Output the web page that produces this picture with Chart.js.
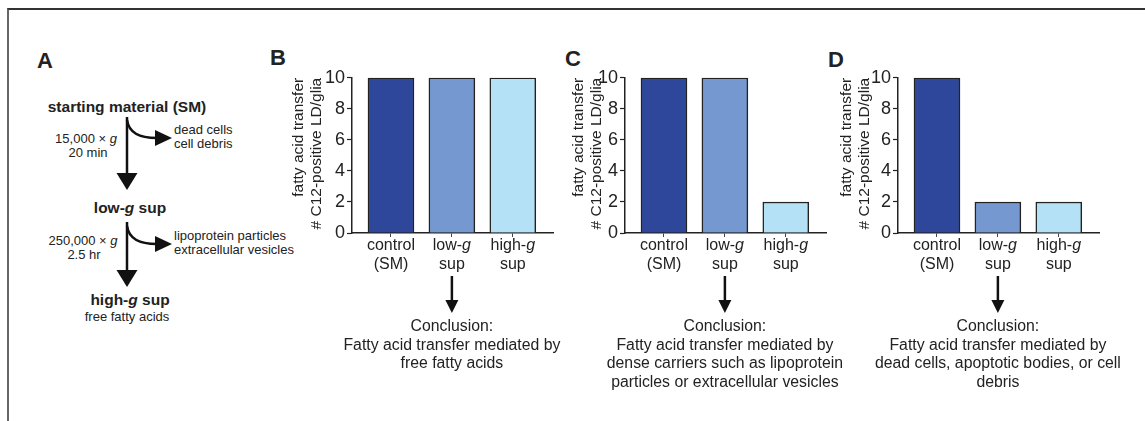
<!DOCTYPE html>
<html>
<head>
<meta charset="utf-8">
<script src="https://cdn.jsdelivr.net/npm/chart.js@4.4.1/dist/chart.umd.min.js"></script>
<style>
  html, body { margin: 0; padding: 0; background: #fff; }
  #page { position: relative; width: 1145px; height: 421px; overflow: hidden; font-family: Arial, "Liberation Sans", sans-serif; }
  #frame { position: absolute; left: 7px; top: 8px; width: 1150px; height: 420px; border-top: 2px solid #333; border-left: 2px solid #666; }
  #page canvas { position: absolute; }
  #page svg { position: absolute; left: 0; top: 0; }
  svg text { fill: #222; font-family: Arial, "Liberation Sans", sans-serif; }
</style>
</head>
<body>
<div id="page">
  <div id="frame"></div>
  <svg width="1145" height="421">
    <!-- panel letters -->
    <text x="37" y="68" font-size="22" font-weight="bold">A</text>
    <text x="270" y="65" font-size="22" font-weight="bold">B</text>
    <text x="565" y="66" font-size="22" font-weight="bold">C</text>
    <text x="828" y="67" font-size="22" font-weight="bold">D</text>

    <!-- panel A: fractionation scheme -->
    <text x="127" y="112" font-size="15.5" font-weight="bold" text-anchor="middle">starting material (SM)</text>
    <line x1="127" y1="117" x2="127" y2="175" stroke="#111" stroke-width="2.5"/>
    <polygon points="116.5,173 137.5,173 127,190" fill="#111"/>
    <path d="M127,120 C129,133 139,138 157,138" fill="none" stroke="#111" stroke-width="2.5"/>
    <polygon points="155,130 155,146 172,138" fill="#111"/>
    <text x="174" y="134" font-size="13">dead cells</text>
    <text x="174" y="148" font-size="13">cell debris</text>
    <text x="86" y="143" font-size="13" text-anchor="middle">15,000 × <tspan font-style="italic">g</tspan></text>
    <text x="88" y="157" font-size="13" text-anchor="middle">20 min</text>

    <text x="130" y="213" font-size="15.5" font-weight="bold" text-anchor="middle">low-<tspan font-style="italic">g</tspan> sup</text>
    <line x1="127" y1="222" x2="127" y2="272" stroke="#111" stroke-width="2.5"/>
    <polygon points="116.5,270 137.5,270 127,287" fill="#111"/>
    <path d="M127,226 C129,239 139,244 157,244" fill="none" stroke="#111" stroke-width="2.5"/>
    <polygon points="155,236 155,252 172,244" fill="#111"/>
    <text x="174" y="240" font-size="13">lipoprotein particles</text>
    <text x="174" y="254" font-size="13">extracellular vesicles</text>
    <text x="83" y="245" font-size="13" text-anchor="middle">250,000 × <tspan font-style="italic">g</tspan></text>
    <text x="84" y="259" font-size="13" text-anchor="middle">2.5 hr</text>

    <text x="130" y="305" font-size="15.5" font-weight="bold" text-anchor="middle">high-<tspan font-style="italic">g</tspan> sup</text>
    <text x="127" y="321" font-size="13" text-anchor="middle">free fatty acids</text>
  </svg>
  <canvas id="chartB" width="300" height="330" style="left:282px;top:65px"></canvas>
  <canvas id="chartC" width="300" height="330" style="left:555px;top:65px"></canvas>
  <canvas id="chartD" width="300" height="330" style="left:828px;top:65px"></canvas>
</div>

<script>
// categories, *g* marks the italic letter
const categories = [['control', '(SM)'], ['low-*g*', 'sup'], ['high-*g*', 'sup']];
const yTicks = [0, 2, 4, 6, 8, 10];
const yTitle = ['fatty acid transfer', '# C12-positive LD/glia'];

const valuesB = [10, 10, 10];
const valuesC = [10, 10, 2];
const valuesD = [10, 2, 2];

const conclusionB = ['Conclusion:', 'Fatty acid transfer mediated by', 'free fatty acids'];
const conclusionC = ['Conclusion:', 'Fatty acid transfer mediated by', 'dense carriers such as lipoprotein', 'particles or extracellular vesicles'];
const conclusionD = ['Conclusion:', 'Fatty acid transfer mediated by', 'dead cells, apoptotic bodies, or cell', 'debris'];

const barColors = ['#2f479b', '#7598d0', '#b5e1f6'];
const ink = '#222';
const FONT = 'Arial, "Liberation Sans", sans-serif';

// draw a string where *x* parts are italic, centred on cx
function drawRich(ctx, str, cx, y, size) {
  const parts = str.split('*');
  let total = 0;
  const widths = parts.map((p, i) => {
    ctx.font = (i % 2 ? 'italic ' : '') + size + 'px ' + FONT;
    const w = ctx.measureText(p).width;
    total += w;
    return w;
  });
  let x = cx - total / 2;
  ctx.textAlign = 'left';
  ctx.textBaseline = 'alphabetic';
  parts.forEach((p, i) => {
    ctx.font = (i % 2 ? 'italic ' : '') + size + 'px ' + FONT;
    ctx.fillText(p, x, y);
    x += widths[i];
  });
}

// category labels under the x axis, plus the arrow and conclusion under low-g
const extras = {
  id: 'extras',
  afterDraw(chart) {
    const ctx = chart.ctx;
    const xs = chart.scales.x;
    const bottom = chart.chartArea.bottom;
    ctx.save();
    ctx.fillStyle = ink;
    categories.forEach((lines, i) => {
      const cx = xs.getPixelForValue(i);
      lines.forEach((s, j) => drawRich(ctx, s, cx, bottom + 17 + j * 19, 16));
    });
    const ax = xs.getPixelForValue(1);
    ctx.strokeStyle = '#111';
    ctx.lineWidth = 2.5;
    ctx.beginPath();
    ctx.moveTo(ax, bottom + 43);
    ctx.lineTo(ax, bottom + 68);
    ctx.stroke();
    ctx.fillStyle = '#111';
    ctx.beginPath();
    ctx.moveTo(ax - 6.5, bottom + 67);
    ctx.lineTo(ax + 6.5, bottom + 67);
    ctx.lineTo(ax, bottom + 80);
    ctx.closePath();
    ctx.fill();
    ctx.fillStyle = ink;
    chart.options.plugins.extras.lines.forEach((s, j) => drawRich(ctx, s, ax, bottom + 98 + j * 18.5, 15.8));
    ctx.restore();
  }
};

function makeChart(id, values, conclusion, titlePad) {
  return new Chart(document.getElementById(id), {
    type: 'bar',
    data: {
      datasets: [{
        data: values.map((v, i) => ({ x: i, y: v })),
        backgroundColor: barColors,
        borderColor: ink,
        borderWidth: 1.5,
        barThickness: 46
      }]
    },
    options: {
      responsive: false,
      animation: false,
      devicePixelRatio: 1,
      layout: { padding: { top: 12, right: 29, bottom: 122, left: 0 } },
      plugins: { legend: { display: false }, tooltip: { enabled: false }, extras: { lines: conclusion } },
      scales: {
        x: {
          type: 'linear',
          min: -0.64,
          max: 2.66,
          offset: false,
          z: 1,
          afterBuildTicks: s => { s.ticks = categories.map((c, i) => ({ value: i })); },
          afterFit: s => { s.height = 40; },
          ticks: { display: false },
          grid: { offset: false, drawOnChartArea: false, tickLength: 4, tickColor: '#444', tickWidth: 1 },
          border: { color: ink, width: 1.5 }
        },
        y: {
          min: 0,
          max: 10,
          afterBuildTicks: s => { s.ticks = yTicks.map(v => ({ value: v })); },
          afterFit: s => { s.width = 70; },
          ticks: { color: ink, font: { size: 18, family: FONT }, padding: 2 },
          grid: { drawOnChartArea: false, tickLength: 5, tickColor: ink, tickWidth: 1.2 },
          border: { color: ink, width: 1.5 },
          title: {
            display: true,
            text: yTitle,
            align: 'end',
            color: ink,
            font: { size: 15.5, family: FONT, lineHeight: 1.16 },
            padding: { top: titlePad, bottom: 0 }
          }
        }
      }
    },
    plugins: [extras]
  });
}

makeChart('chartB', valuesB, conclusionB, 8);
makeChart('chartC', valuesC, conclusionC, 15);
makeChart('chartD', valuesD, conclusionD, 9.5);
</script>
</body>
</html>
